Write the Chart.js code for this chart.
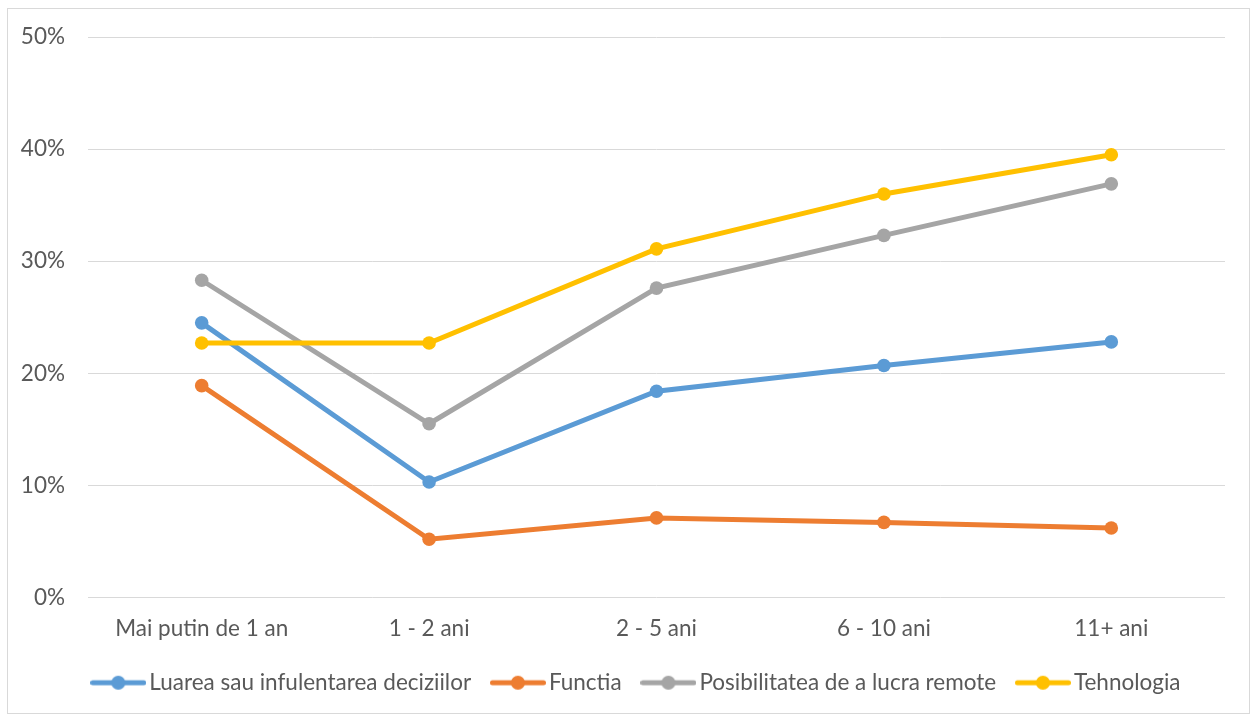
<!DOCTYPE html>
<html>
<head>
<meta charset="utf-8">
<script src="https://cdn.jsdelivr.net/npm/chart.js@4/dist/chart.umd.min.js"></script>
<style>
  html, body { margin: 0; padding: 0; background: #ffffff; }
  #wrap { position: relative; width: 1253px; height: 717px; }
  #frame { position: absolute; left: 7px; top: 8px; width: 1243px; height: 706px; border: 1px solid #d9d9d9; box-sizing: border-box; }
  canvas { position: absolute; left: 0; top: 0; }
</style>
</head>
<body>
<div id="wrap">
  <div id="frame"></div>
  <canvas id="chart" width="1253" height="717"></canvas>
</div>
<script>
// Categories: years of experience
const categories = ['Mai putin de 1 an', '1 - 2 ani', '2 - 5 ani', '6 - 10 ani', '11+ ani'];

// Share of respondents (%) per factor
const luareaDeciziilor = [24.5, 10.3, 18.4, 20.7, 22.8];
const functia = [18.9, 5.2, 7.1, 6.7, 6.2];
const lucruRemote = [28.3, 15.5, 27.6, 32.3, 36.9];
const tehnologia = [22.7, 22.7, 31.1, 36.0, 39.5];

const seriesNames = [
  'Luarea sau infulentarea deciziilor',
  'Functia',
  'Posibilitatea de a lucra remote',
  'Tehnologia'
];
const seriesValues = [luareaDeciziilor, functia, lucruRemote, tehnologia];
const seriesColors = ['#5B9BD5', '#ED7D31', '#A5A5A5', '#FFC000'];

const yTicks = [0, 10, 20, 30, 40, 50];

const FONT = 'Lato, "Open Sans", sans-serif';
const FONT_SIZE = 22.5;
const TEXT = '#595959';

// Legend marker: short line segment with a dot in the middle
function legendMarker(color) {
  const c = document.createElement('canvas');
  c.width = 56; c.height = 16;
  const g = c.getContext('2d');
  g.strokeStyle = color;
  g.lineWidth = 5;
  g.lineCap = 'round';
  g.beginPath();
  g.moveTo(2.5, 8); g.lineTo(53.5, 8);
  g.stroke();
  g.fillStyle = color;
  g.beginPath();
  g.arc(28, 8, 7, 0, Math.PI * 2);
  g.fill();
  return c;
}

const datasets = seriesNames.map((name, i) => ({
  label: name,
  data: seriesValues[i],
  borderColor: seriesColors[i],
  backgroundColor: seriesColors[i],
  borderWidth: 5,
  pointRadius: 6.8,
  pointHoverRadius: 6.8,
  pointBorderWidth: 0,
  pointStyle: 'circle',
  tension: 0,
  order: seriesNames.length - i,
  legendMarker: legendMarker(seriesColors[i])
}));

// Nudge the legend row so it sits centred under the plot area
const legendShift = {
  id: 'legendShift',
  afterLayout(chart) {
    if (chart.legend) {
      chart.legend.left += 27;
      chart.legend.right += 27;
    }
  }
};

new Chart(document.getElementById('chart'), {
  type: 'line',
  data: { labels: categories, datasets },
  plugins: [legendShift],
  options: {
    responsive: false,
    animation: false,
    layout: { padding: { left: 0, right: 28, top: 37, bottom: 13 } },
    scales: {
      x: {
        offset: true,
        grid: { display: false, drawTicks: false },
        border: { display: false },
        ticks: { color: TEXT, font: { family: FONT, size: FONT_SIZE }, padding: 18, maxRotation: 0 },
        afterFit: (s) => { s.height = 47; }
      },
      y: {
        min: 0,
        max: 50,
        afterBuildTicks: (s) => { s.ticks = yTicks.map(v => ({ value: v })); },
        grid: { color: '#d9d9d9', lineWidth: 1, drawTicks: false },
        border: { display: false },
        ticks: {
          color: TEXT,
          font: { family: FONT, size: FONT_SIZE },
          padding: 23,
          callback: (v) => v + '%'
        },
        afterFit: (s) => { s.width = 88; }
      }
    },
    plugins: {
      tooltip: { enabled: false },
      legend: {
        position: 'bottom',
        labels: {
          usePointStyle: true,
          pointStyleWidth: 39.5,
          padding: 27,
          color: TEXT,
          font: { family: FONT, size: FONT_SIZE },
          sort: (a, b) => a.datasetIndex - b.datasetIndex,
          generateLabels: (chart) => chart.data.datasets.map((ds, i) => ({
            text: ds.label,
            datasetIndex: i,
            fillStyle: ds.borderColor,
            strokeStyle: ds.borderColor,
            lineWidth: 0,
            hidden: false,
            fontColor: TEXT,
            pointStyle: ds.legendMarker
          }))
        }
      }
    }
  }
});
</script>
</body>
</html>
